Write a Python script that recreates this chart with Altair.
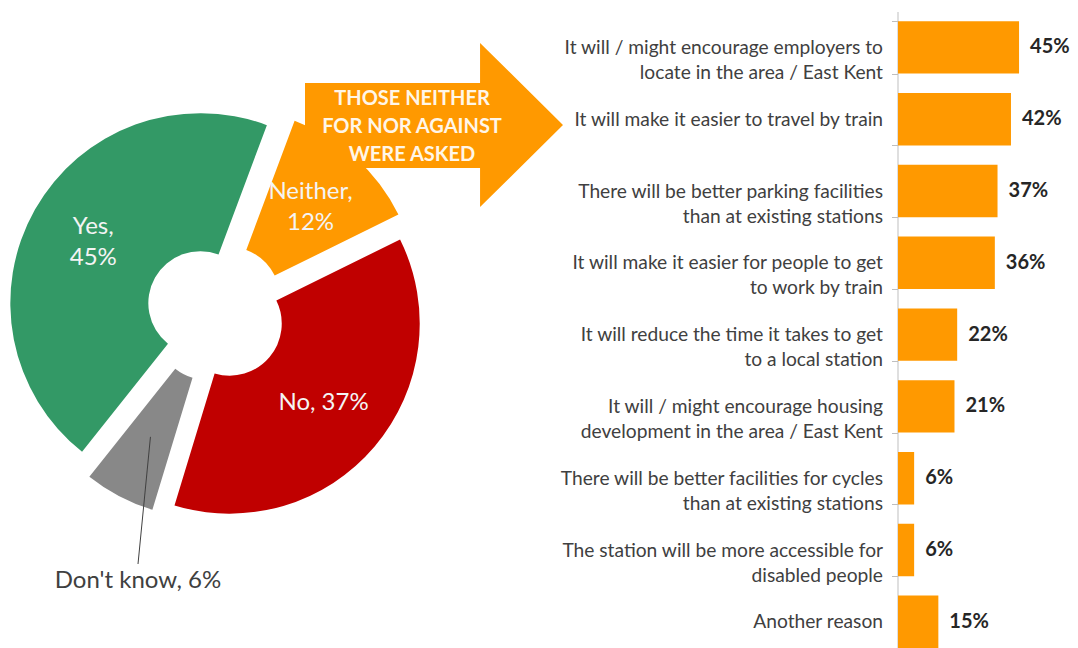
import math
import altair as alt
import pandas as pd

# ---------------- data ----------------
pie_cats = ["Yes", "Neither", "No", "Don't know"]
pie_vals = [45, 12, 37, 6]
pie_wrap = [True, True, False, False]
pie_colors = ["#339966", "#FF9900", "#C00000", "#888888"]

reasons = [
    "It will / might encourage employers to\nlocate in the area / East Kent",
    "It will make it easier to travel by train",
    "There will be better parking facilities\nthan at existing stations",
    "It will make it easier for people to get\nto work by train",
    "It will reduce the time it takes to get\nto a local station",
    "It will / might encourage housing\ndevelopment in the area / East Kent",
    "There will be better facilities for cycles\nthan at existing stations",
    "The station will be more accessible for\ndisabled people",
    "Another reason",
]
reason_vals = [45, 42, 37, 36, 22, 21, 6, 6, 15]

arrow_text = "THOSE NEITHER\nFOR NOR AGAINST\nWERE ASKED"

# ---------------- layout (pixels) ----------------
W, H = 1062, 660
CX, CY = 208, 304          # donut centre
R_OUT, R_IN = 190, 52
EXPLODE = 18
LABEL_R = 141
START = math.radians(218.5)
FONT = "Lato"
PIE_LH = 31

# ---------------- donut ----------------
pie_labels = [
    f"{c},\n{v}%" if w else f"{c}, {v}%" for c, v, w in zip(pie_cats, pie_vals, pie_wrap)
]
pie_df = pd.DataFrame(
    {"cat": pie_cats, "val": pie_vals, "idx": list(range(len(pie_cats))), "lab": pie_labels}
)

pie_base = (
    alt.Chart(pie_df)
    .transform_window(cum="sum(val)", sort=[alt.SortField("idx", order="ascending")], frame=[None, 0])
    .transform_joinaggregate(total="sum(val)")
    .transform_calculate(
        t1=f"{START} + 2*PI*datum.cum/datum.total",
        t0=f"{START} + 2*PI*(datum.cum - datum.val)/datum.total",
    )
    .transform_calculate(tm="(datum.t0 + datum.t1)/2")
    .transform_calculate(
        px=f"{CX} + {EXPLODE}*sin(datum.tm)",
        py=f"{CY} - {EXPLODE}*cos(datum.tm)",
        lx=f"{CX} + {LABEL_R}*sin(datum.tm)",
        ly=f"{CY} - {LABEL_R}*cos(datum.tm) - (length(split(datum.lab, '\\n')) - 1)*{PIE_LH}/2",
    )
)

arcs = pie_base.mark_arc(radius=R_OUT, radius2=R_IN, stroke=None).encode(
    x=alt.X("px:Q", scale=None, axis=None),
    y=alt.Y("py:Q", scale=None, axis=None),
    theta=alt.Theta("t0:Q", scale=None, stack=False),
    theta2="t1:Q",
    color=alt.Color("cat:N", scale=alt.Scale(domain=pie_cats, range=pie_colors), legend=None),
)

inner_labels = (
    pie_base.transform_filter("datum.cat != \"Don't know\"")
    .mark_text(font=FONT, fontSize=24, color="#F4F4F4", lineBreak="\n", lineHeight=PIE_LH,
               align="center", baseline="middle")
    .encode(x=alt.X("lx:Q", scale=None, axis=None), y=alt.Y("ly:Q", scale=None, axis=None), text="lab:N")
)

leader = (
    pie_base.transform_filter("datum.cat == \"Don't know\"")
    .mark_rule(color="#404040", strokeWidth=1)
    .encode(x=alt.X("lx:Q", scale=None, axis=None), y=alt.Y("ly:Q", scale=None, axis=None),
            x2=alt.value(130), y2=alt.value(556))
)

outer_label = (
    pie_base.transform_filter("datum.cat == \"Don't know\"")
    .mark_text(font=FONT, fontSize=24, color="#404040", align="center", baseline="middle")
    .encode(x=alt.value(130), y=alt.value(573), text="lab:N")
)

# ---------------- arrow ----------------
ARROW_PATH = "M-1,-0.326 L0.357,-0.326 L0.357,-0.636 L1,0 L0.357,0.636 L0.357,0.333 L-1,0.333 Z"
arrow_df = pd.DataFrame({"t": [arrow_text]})
arrow = alt.Chart(arrow_df).mark_point(
    shape=ARROW_PATH, size=258 * 258, filled=True, fill="#FF9900", opacity=1, strokeWidth=0
).encode(x=alt.value(426), y=alt.value(117))

arrow_label = alt.Chart(arrow_df).mark_text(
    font=FONT, fontSize=20, fontWeight="bold", color="#FFF6E8", lineBreak="\n", lineHeight=28,
    align="center", baseline="middle"
).encode(x=alt.value(404), y=alt.value(91), text="t:N")

# ---------------- bars ----------------
bar_df = pd.DataFrame({"reason": reasons, "pct": reason_vals})
ysc = alt.Scale(domain=reasons, range=[3.5, 649.7], paddingInner=0.27, paddingOuter=0.135)
xsc = alt.Scale(domain=[0, 50], range=[890, 1024.5])

bars = alt.Chart(bar_df).mark_bar(color="#FF9900").encode(
    y=alt.Y(
        "reason:N", sort=reasons, scale=ysc, title=None,
        axis=alt.Axis(
            orient="left", offset=-889.5, domainColor="#BFBFBF", tickColor="#BFBFBF",
            tickSize=6, tickBand="extent", labelFont=FONT, labelFontSize=19.2,
            labelColor="#404040", labelLineHeight=25, labelExpr="split(datum.label, '\\n')",
            labelPadding=9, labelLimit=0, grid=False, domainWidth=1,
        ),
    ),
    x=alt.X("pct:Q", scale=xsc, axis=None),
)

bar_labels = (
    alt.Chart(bar_df)
    .transform_calculate(lab="datum.pct + '%'")
    .mark_text(align="left", baseline="middle", dx=11, font=FONT, fontWeight="bold",
               fontSize=20, color="#262626")
    .encode(y=alt.Y("reason:N", sort=reasons, scale=ysc, title=None),
            x=alt.X("pct:Q", scale=xsc, axis=None), text="lab:N")
)

chart = (
    alt.layer(bars, bar_labels, arcs, inner_labels, leader, outer_label, arrow, arrow_label)
    .properties(width=W, height=H, padding=0, background="white",
                autosize=alt.AutoSizeParams(type="none"))
    .configure_view(stroke=None)
)

chart.save("out.html", embed_options={"renderer": "svg", "actions": False})
